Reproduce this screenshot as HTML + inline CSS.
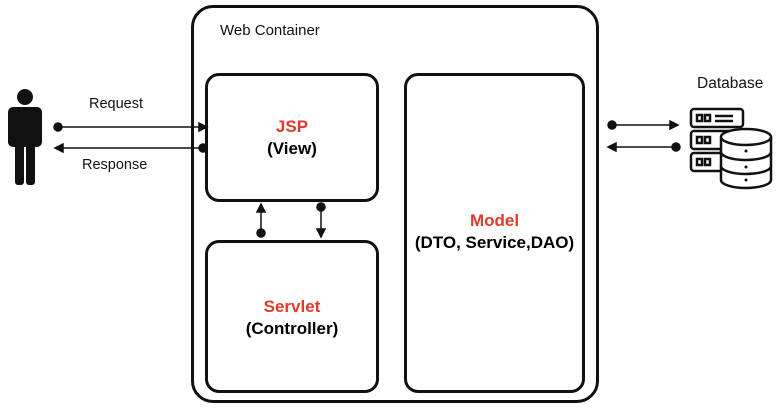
<!DOCTYPE html>
<html><head><style>
body{margin:0;width:780px;height:413px;background:#fff;font-family:"Liberation Sans",sans-serif;position:relative;overflow:hidden}
.b{position:absolute;border:3px solid #111;box-sizing:border-box}
.t{position:absolute;color:#111}
.c{position:absolute;text-align:center;font-weight:bold;font-size:17px;line-height:22px}
.r{color:#e03a2a;font-size:17px}
</style></head><body>
<div class="b" style="left:191px;top:5px;width:408px;height:398px;border-radius:22px"></div>
<div class="b" style="left:205px;top:73px;width:174px;height:129px;border-radius:14px"></div>
<div class="b" style="left:205px;top:240px;width:174px;height:153px;border-radius:14px"></div>
<div class="b" style="left:404px;top:73px;width:181px;height:320px;border-radius:14px"></div>
<div class="t" style="left:220px;top:22px;font-size:15px">Web Container</div>
<div class="c" style="left:205px;top:116px;width:174px"><span class="r">JSP</span><br>(View)</div>
<div class="c" style="left:205px;top:296px;width:174px"><span class="r">Servlet</span><br>(Controller)</div>
<div class="c" style="left:404px;top:210px;width:181px"><span class="r">Model</span><br>(DTO, Service,DAO)</div>
<div class="t" style="left:89px;top:96px;font-size:14.5px">Request</div>
<div class="t" style="left:82px;top:157px;font-size:14.5px">Response</div>
<div class="t" style="left:697px;top:75px;font-size:15.5px">Database</div>
<svg width="780" height="413" style="position:absolute;left:0;top:0">
<g fill="#111" stroke="#111">
<circle cx="25" cy="97" r="8" stroke="none"/>
<rect x="8" y="107" width="34" height="40" rx="5" stroke="none"/>
<rect x="15" y="130" width="9" height="55" rx="3" stroke="none"/>
<rect x="26" y="130" width="9" height="55" rx="3" stroke="none"/>
<g stroke-width="1.5">
<line x1="58" y1="127" x2="200" y2="127"/><circle cx="58" cy="127" r="4"/><path d="M199 123 L207 127 L199 131Z"/>
<line x1="62" y1="148" x2="203" y2="148"/><circle cx="203" cy="148" r="4"/><path d="M63 144 L55 148 L63 152Z"/>
<line x1="612" y1="125" x2="671" y2="125"/><circle cx="612" cy="125" r="4"/><path d="M670 121 L678 125 L670 129Z"/>
<line x1="615" y1="147" x2="676" y2="147"/><circle cx="676" cy="147" r="4"/><path d="M616 143 L608 147 L616 151Z"/>
<line x1="261" y1="211" x2="261" y2="233"/><circle cx="261" cy="233" r="4"/><path d="M257 212 L261 204 L265 212Z"/>
<line x1="321" y1="207" x2="321" y2="230"/><circle cx="321" cy="207" r="4"/><path d="M317 229 L321 237 L325 229Z"/>
</g>
</g>
<g fill="none" stroke="#111" stroke-width="2.5">
<rect x="691" y="109" width="52" height="18" rx="3"/>
<rect x="691" y="131" width="52" height="18" rx="3"/>
<rect x="691" y="153" width="52" height="18" rx="3"/>
<rect x="697" y="115" width="5" height="6"/><rect x="705" y="115" width="5" height="6"/>
<rect x="697" y="137" width="5" height="6"/><rect x="705" y="137" width="5" height="6"/>
<rect x="697" y="159" width="5" height="6"/><rect x="705" y="159" width="5" height="6"/>
<line x1="715" y1="116" x2="733" y2="116"/><line x1="715" y1="121" x2="733" y2="121"/>
<path d="M721 137 L721 180 A25 8 0 0 0 771 180 L771 137" fill="#fff"/>
<ellipse cx="746" cy="137" rx="25" ry="8" fill="#fff"/>
<path d="M721 152 A25 8 0 0 0 771 152 M721 166 A25 8 0 0 0 771 166"/>
</g>
<g fill="#111"><circle cx="746" cy="151" r="1.5"/><circle cx="746" cy="167" r="1.5"/><circle cx="746" cy="180" r="1.5"/></g>
</svg>
</body></html>
